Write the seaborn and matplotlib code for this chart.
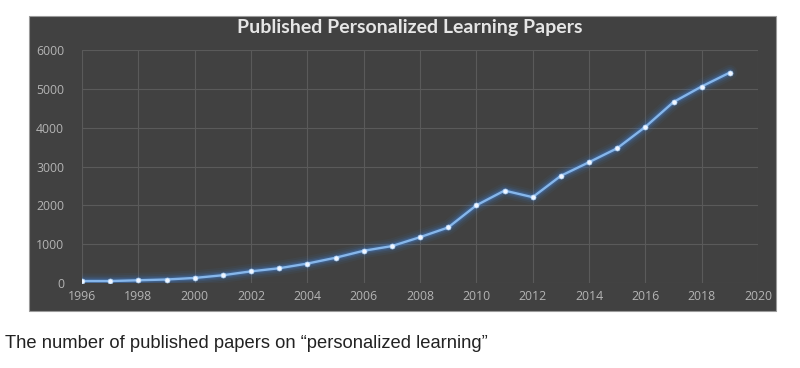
import matplotlib
matplotlib.use("Agg")
import matplotlib.pyplot as plt
import seaborn as sns
import pandas as pd
from matplotlib.patches import Rectangle

years = list(range(1996, 2020))
papers = [50, 50, 70, 90, 130, 200, 300, 380, 500, 650, 830, 950,
          1180, 1430, 2000, 2380, 2210, 2760, 3110, 3470, 4020, 4660, 5060, 5420]
x_ticks = list(range(1996, 2021, 2))
y_ticks = [0, 1000, 2000, 3000, 4000, 5000, 6000]
title = "Published Personalized Learning Papers"
caption = "The number of published papers on \u201cpersonalized learning\u201d"

df = pd.DataFrame({"year": years, "papers": papers})

sns.set_theme(style="dark")
fig = plt.figure(figsize=(8, 3.68), dpi=100)
fig.patch.set_facecolor("white")

# dark chart panel
fig.patches.append(Rectangle((29 / 800, 1 - 311 / 368), (776 - 29) / 800, (311 - 16) / 368,
                             transform=fig.transFigure, facecolor="#414141",
                             edgecolor="#9a9a9a", linewidth=0.8, zorder=-5))

ax = fig.add_axes([82 / 800, 1 - 283 / 368, (758 - 82) / 800, (283 - 50) / 368])
ax.set_zorder(2)
ax.patch.set_alpha(0)

# glow layers
for lw, a in [(11, 0.06), (8, 0.09), (5.5, 0.15), (3.5, 0.25)]:
    sns.lineplot(data=df, x="year", y="papers", ax=ax, color="#3f86e0",
                 linewidth=lw, alpha=a, legend=False)
sns.lineplot(data=df, x="year", y="papers", ax=ax, color="#86b6ea",
             linewidth=1.7, legend=False, marker="o", markersize=3.6,
             markerfacecolor="#eef5ff", markeredgecolor="#b0d2f5", markeredgewidth=0.5)

ax.set_xlim(1996, 2020)
ax.set_ylim(0, 6000)
ax.set_xticks(x_ticks)
ax.set_yticks(y_ticks)
ax.set_xticklabels([str(t) for t in x_ticks])
ax.set_yticklabels([str(t) for t in y_ticks])
ax.grid(True, color="#5a5a5a", linewidth=0.8)
for s in ax.spines.values():
    s.set_visible(False)
ax.tick_params(axis="both", length=0, colors="#b4b4b4", labelsize=8.8)
ax.tick_params(axis="x", pad=5)
ax.tick_params(axis="y", pad=13)
for lab in ax.get_xticklabels() + ax.get_yticklabels():
    lab.set_fontfamily("Open Sans")
ax.set_xlabel("")
ax.set_ylabel("")

fig.text(410 / 800, 1 - 28 / 368, title, ha="center", va="center",
         fontsize=14, fontweight="bold", color="#e6e6e6", family="Lato", zorder=3)
fig.text(5 / 800, 1 - 343 / 368, caption, ha="left", va="center",
         fontsize=13.2, color="#222222", family="Liberation Sans")

fig.savefig("out.png", dpi=100, facecolor="white")
